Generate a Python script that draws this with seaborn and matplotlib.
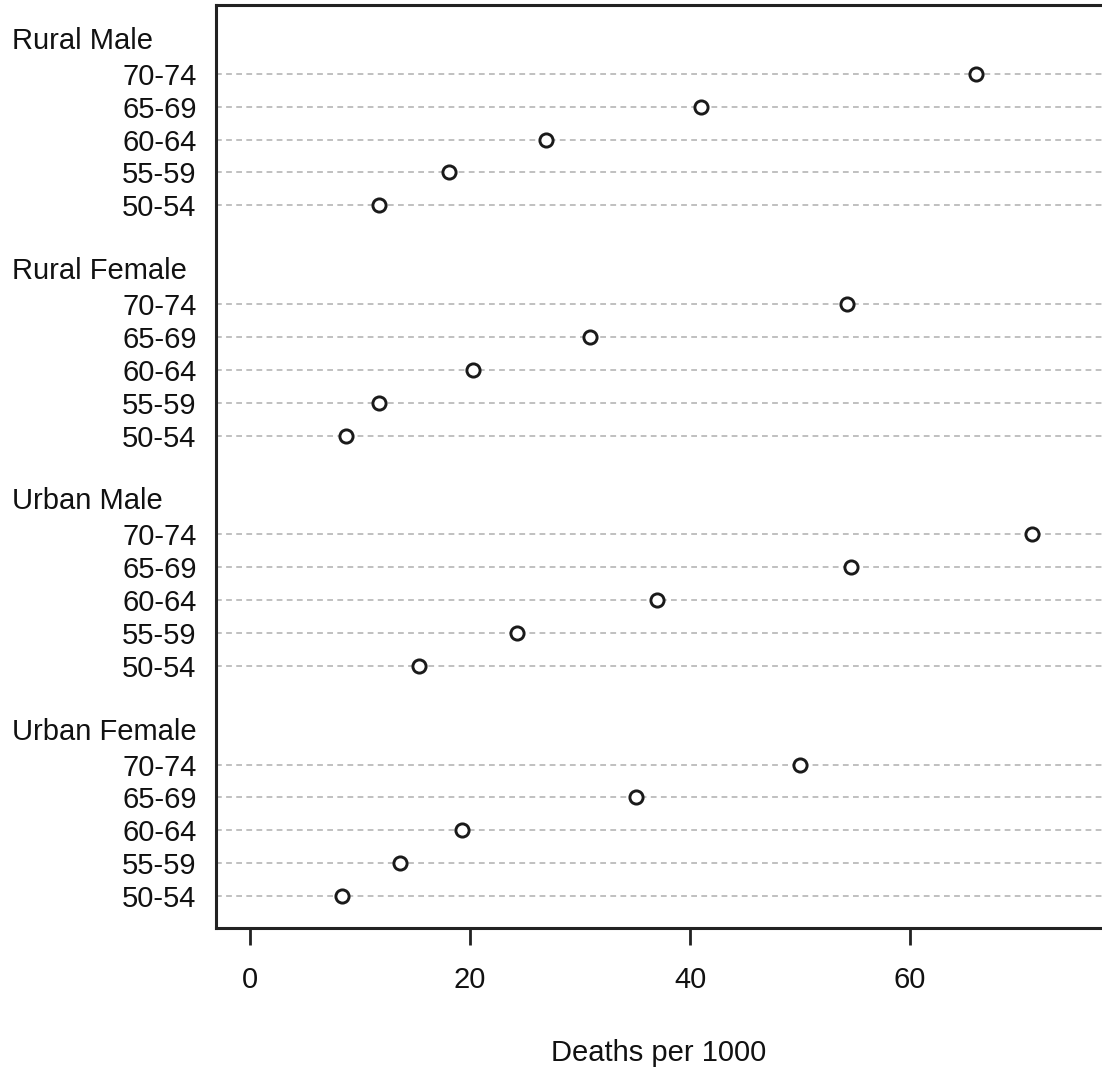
import numpy as np
import pandas as pd
import matplotlib
matplotlib.use("Agg")
import matplotlib.pyplot as plt
import seaborn as sns
from matplotlib.transforms import blended_transform_factory

# ---- data (VADeaths) ----
age_groups = ["50-54", "55-59", "60-64", "65-69", "70-74"]
groups = ["Rural Male", "Rural Female", "Urban Male", "Urban Female"]
rural_male = [11.7, 18.1, 26.9, 41.0, 66.0]
rural_female = [8.7, 11.7, 20.3, 30.9, 54.3]
urban_male = [15.4, 24.3, 37.0, 54.6, 71.1]
urban_female = [8.4, 13.6, 19.3, 35.1, 50.0]
x_ticks = [0, 20, 40, 60]
x_label = "Deaths per 1000"

series = {"Rural Male": rural_male, "Rural Female": rural_female,
          "Urban Male": urban_male, "Urban Female": urban_female}

# build dotchart layout (bottom group first, as in R's dotchart)
rows = []
header_pos = {}
offset = 0
for g in reversed(groups):
    for i, (age, v) in enumerate(zip(age_groups, series[g])):
        rows.append({"group": g, "age": age, "value": v, "pos": offset + i + 1})
    header_pos[g] = offset + len(age_groups) + 1
    offset += len(age_groups) + 2
df = pd.DataFrame(rows)

sns.set_style("ticks")
plt.rcParams["font.family"] = ["Liberation Sans", "DejaVu Sans"]

FS = 21
W, H = 1102, 1076
fig = plt.figure(figsize=(W / 100, H / 100), dpi=100)
ax = fig.add_axes([216 / W, 1 - 928 / H, (W - 216) / W, (928 - 5) / H])

# dashed guide lines
for p in df["pos"]:
    ax.axhline(p, color="#bbbbbb", lw=1.3, ls=(0, (3.2, 2.4)), zorder=1)

sns.scatterplot(data=df, x="value", y="pos", ax=ax, marker="o", s=90,
                fc="white", ec="#1a1a1a", linewidth=2.1, zorder=3, legend=False)

ax.set_xlim(-3.09, 77.45)
ax.set_ylim(0.03, 28.09)

ax.set_yticks(df["pos"])
ax.set_yticklabels(df["age"], fontsize=FS, color="#111111")
ax.tick_params(axis="y", length=0, pad=14)

ax.set_xticks(x_ticks)
ax.set_xticklabels([str(t) for t in x_ticks], fontsize=FS, color="#111111")
ax.tick_params(axis="x", length=12.5, width=2, pad=15, color="#222222", direction="out")

ax.set_xlabel(x_label, fontsize=FS, labelpad=32, color="#111111")
ax.set_ylabel("")

for side in ["left", "top", "bottom"]:
    ax.spines[side].set_linewidth(2.2)
    ax.spines[side].set_color("#222222")
ax.spines["right"].set_visible(False)

trans = blended_transform_factory(fig.transFigure, ax.transData)
for g in groups:
    ax.text(12 / W, header_pos[g], g, transform=trans, ha="left", va="center",
            fontsize=FS, color="#111111")

fig.savefig("out.png", dpi=100)
